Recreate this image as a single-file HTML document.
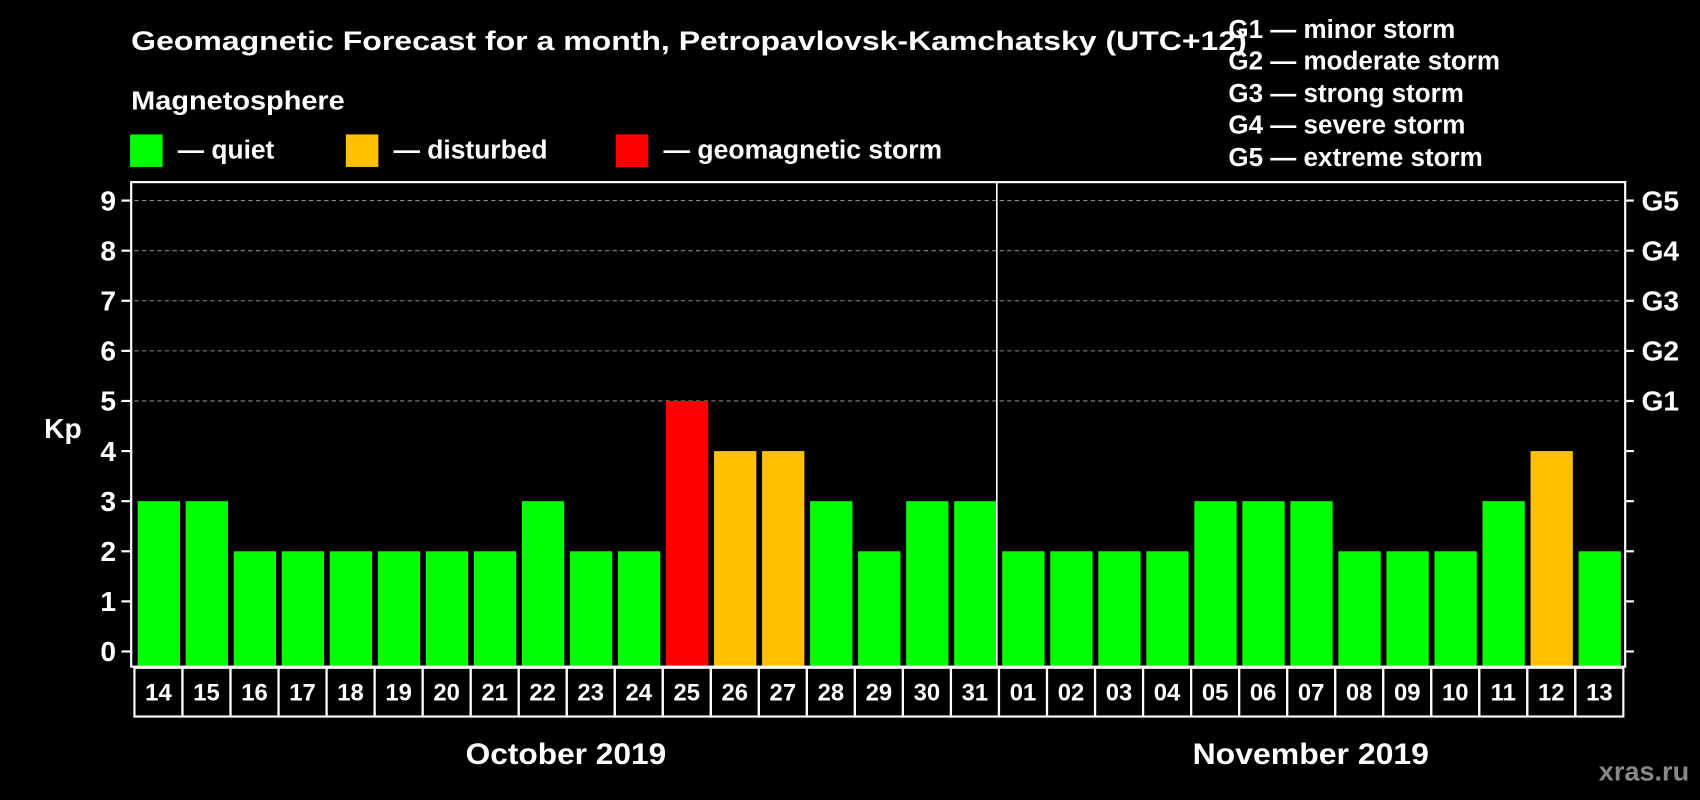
<!DOCTYPE html>
<html><head><meta charset="utf-8"><style>
html,body{margin:0;padding:0;background:#000;}
svg{display:block;font-family:"Liberation Sans",sans-serif;font-weight:bold;}
</style></head><body>
<svg id="c" width="1700" height="800" viewBox="0 0 1568 738" preserveAspectRatio="none">
<rect width="1568" height="738" fill="#000"/>
<text x="121" y="46" fill="#fff" font-size="25" textLength="1029" lengthAdjust="spacingAndGlyphs">Geomagnetic Forecast for a month, Petropavlovsk-Kamchatsky (UTC+12)</text>
<text x="121" y="101" fill="#fff" font-size="24" textLength="197" lengthAdjust="spacingAndGlyphs">Magnetosphere</text>
<g><rect x="120" y="124" width="30" height="30" fill="#00ff00"/><text x="164" y="146" fill="#fff" font-size="24" textLength="89" lengthAdjust="spacingAndGlyphs">— quiet</text></g>
<g><rect x="319" y="124" width="30" height="30" fill="#ffc000"/><text x="363" y="146" fill="#fff" font-size="24" textLength="142" lengthAdjust="spacingAndGlyphs">— disturbed</text></g>
<g><rect x="568" y="124" width="30" height="30" fill="#ff0000"/><text x="612" y="146" fill="#fff" font-size="24" textLength="257" lengthAdjust="spacingAndGlyphs">— geomagnetic storm</text></g>
<g fill="#fff" font-size="24">
<text x="1133" y="35">G1 — minor storm</text>
<text x="1133" y="64">G2 — moderate storm</text>
<text x="1133" y="94">G3 — strong storm</text>
<text x="1133" y="123">G4 — severe storm</text>
<text x="1133" y="153">G5 — extreme storm</text>
</g>
<text x="58" y="404" fill="#fff" font-size="26" text-anchor="middle">Kp</text>
<g id="grid"></g><g id="bars"></g><g id="axes"></g>
<rect x="121" y="168" width="1378" height="447" fill="none" stroke="#fff" stroke-width="2"/>
<text x="522" y="705" fill="#fff" font-size="27" text-anchor="middle" textLength="185" lengthAdjust="spacingAndGlyphs">October 2019</text>
<text x="1209" y="705" fill="#fff" font-size="27" text-anchor="middle" textLength="218" lengthAdjust="spacingAndGlyphs">November 2019</text>
<text x="1558" y="720" fill="#888" font-size="25" text-anchor="end">xras.ru</text>
</svg>
<script>
const days=["14","15","16","17","18","19","20","21","22","23","24","25","26","27","28","29","30","31","01","02","03","04","05","06","07","08","09","10","11","12","13"];
const kp=[3,3,2,2,2,2,2,2,3,2,2,5,4,4,3,2,3,3,2,2,2,2,3,3,3,2,2,2,3,4,2];
const yTicks=["0","1","2","3","4","5","6","7","8","9"];
const gLabels=["G1","G2","G3","G4","G5"];
const NS="http://www.w3.org/2000/svg";
const y=v=>601-v*46.22;
const slotX=i=>124+i*44.3;
function mk(t,a,p){const e=document.createElementNS(NS,t);for(const k in a)e.setAttribute(k,a[k]);p.appendChild(e);return e;}
const grid=document.getElementById('grid'),bars=document.getElementById('bars'),axes=document.getElementById('axes');
yTicks.forEach((t,i)=>{
 const yy=y(+t);
 if(+t>=5){const g=mk('line',{x1:124,x2:1496,y1:yy,y2:yy,stroke:'#888','stroke-dasharray':'4,3','stroke-width':1},grid);
 
 }
 mk('line',{x1:112,x2:121,y1:yy,y2:yy,stroke:'#fff','stroke-width':2},axes);
 mk('line',{x1:1499,x2:1507,y1:yy,y2:yy,stroke:'#fff','stroke-width':2},axes);
 const tx=mk('text',{x:107,y:yy+9,fill:'#fff','font-size':26,'text-anchor':'end'},axes);tx.textContent=t;
 
 
});
gLabels.forEach((g,i)=>{const tx=mk('text',{x:1514,y:y(i+5)+9,fill:'#fff','font-size':26},axes);tx.textContent=g;
 
 });
kp.forEach((v,i)=>{
 const c=v>=5?'#ff0000':v>=4?'#ffc000':'#00ff00';
 const r=mk('rect',{x:slotX(i)+3,y:y(v),width:39,height:615-y(v),fill:c},bars);
 
 
 const b=mk('rect',{x:slotX(i),y:616,width:44.3,height:45,fill:'none',stroke:'#fff','stroke-width':2},axes);
 
 
 const t=mk('text',{x:slotX(i)+22.15,y:646,fill:'#fff','font-size':22,'text-anchor':'middle'},axes);t.textContent=days[i];
 
 
});
const sep=days.indexOf("01");
const s=mk('line',{x1:slotX(sep)-2,x2:slotX(sep)-2,y1:168,y2:615,stroke:'#fff','stroke-width':1.5},axes);


</script>
</body></html>
